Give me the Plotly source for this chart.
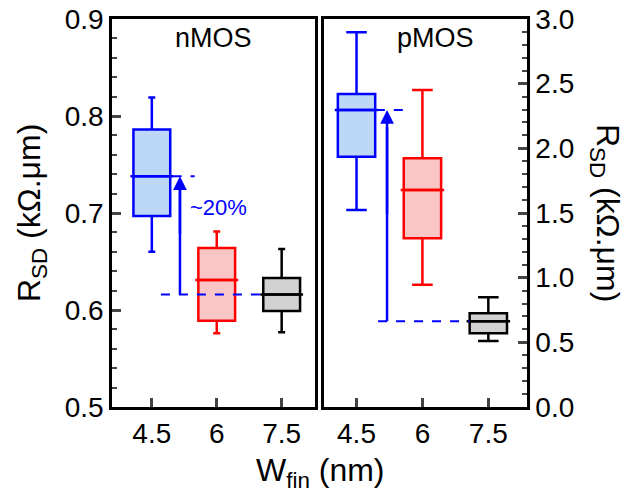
import plotly.graph_objects as go

# ---- data ----
wfin = [4.5, 6.0, 7.5]
wfin_labels = ["4.5", "6", "7.5"]

# nMOS R_SD (kOhm.um)
n_low = [0.660, 0.576, 0.577]
n_q1 = [0.697, 0.589, 0.599]
n_med = [0.738, 0.631, 0.616]
n_q3 = [0.786, 0.664, 0.633]
n_high = [0.819, 0.681, 0.663]

# pMOS R_SD (kOhm.um)
p_low = [1.523, 0.946, 0.510]
p_q1 = [1.935, 1.304, 0.570]
p_med = [2.296, 1.678, 0.663]
p_q3 = [2.420, 1.923, 0.724]
p_high = [2.897, 2.451, 0.848]

line_colors = ["#0000ff", "#ff0000", "#000000"]
fill_colors = ["#bdd7f7", "#f9c5c5", "#d2d2d2"]

FONT = "Liberation Sans, Arial, sans-serif"
BOXW = 0.85
LW = 2.5
W, H, OFF = 637, 497, 0


def PX(px):
    return (px - OFF) / W


def PY(py):
    return 1 - (py - OFF) / H


fig = go.Figure()


def add_boxes(low, q1, med, q3, high, xa, ya, whisk):
    for i, xv in enumerate(wfin):
        fig.add_trace(go.Box(
            x=[xv], q1=[q1[i]], median=[med[i]], q3=[q3[i]],
            lowerfence=[low[i]], upperfence=[high[i]],
            width=BOXW, whiskerwidth=whisk,
            fillcolor=fill_colors[i],
            line=dict(color=line_colors[i], width=LW),
            boxpoints=False, showlegend=False, hoverinfo="skip",
            xaxis=xa, yaxis=ya,
        ))
        # median line slightly wider than box
        fig.add_trace(go.Scatter(
            x=[xv - BOXW / 2 - 0.07, xv + BOXW / 2 + 0.07], y=[med[i], med[i]],
            mode="lines", line=dict(color=line_colors[i], width=LW),
            showlegend=False, hoverinfo="skip", xaxis=xa, yaxis=ya,
        ))


add_boxes(n_low, n_q1, n_med, n_q3, n_high, "x", "y", 0.19)
add_boxes(p_low, p_q1, p_med, p_q3, p_high, "x2", "y2", 0.55)


# dashed reference lines and arrows
def add_ref(xa, ya, top, bottom, top_x, bot_x, arrow_x):
    fig.add_trace(go.Scatter(x=top_x, y=[top, top], mode="lines",
                             line=dict(color="#0000ff", width=2, dash="dash"),
                             showlegend=False, hoverinfo="skip", xaxis=xa, yaxis=ya))
    fig.add_trace(go.Scatter(x=bot_x, y=[bottom, bottom], mode="lines",
                             line=dict(color="#0000ff", width=2, dash="dash"),
                             showlegend=False, hoverinfo="skip", xaxis=xa, yaxis=ya))
    fig.add_trace(go.Scatter(x=[arrow_x, arrow_x], y=[bottom, top - (top - bottom) * 0.08],
                             mode="lines", line=dict(color="#0000ff", width=LW),
                             showlegend=False, hoverinfo="skip", xaxis=xa, yaxis=ya))
    fig.add_annotation(x=arrow_x, y=top, ax=arrow_x, ay=bottom + (top - bottom) * 0.5,
                       xref=xa, yref=ya, axref=xa, ayref=ya,
                       showarrow=True, arrowhead=2, arrowsize=1.1, arrowwidth=LW,
                       arrowcolor="#0000ff", text="")


add_ref("x", "y", n_med[0], n_med[2], [4.98, 5.49], [4.71, 7.15], 5.15)
add_ref("x2", "y2", p_med[0], p_med[2], [4.53, 5.58], [4.99, 7.07], 5.195)

fig.add_annotation(x=6.05, y=0.706, xref="x", yref="y", text="~20%",
                   xanchor="center", yanchor="middle",
                   showarrow=False, font=dict(family=FONT, size=22, color="#0000ff"))
fig.add_annotation(x=0.5, y=0.951, xref="x domain", yref="y domain", text="nMOS",
                   xanchor="center", yanchor="middle",
                   showarrow=False, font=dict(family=FONT, size=27, color="black"))
fig.add_annotation(x=0.55, y=0.951, xref="x2 domain", yref="y2 domain", text="pMOS",
                   xanchor="center", yanchor="middle",
                   showarrow=False, font=dict(family=FONT, size=27, color="black"))

# axis titles
fig.add_annotation(x=PX(31), y=PY(213), xref="paper", yref="paper",
                   xanchor="center", yanchor="middle",
                   text="R<sub>SD</sub> (kΩ.μm)", textangle=-90, showarrow=False,
                   font=dict(family=FONT, size=32, color="black"))
fig.add_annotation(x=PX(606), y=PY(213), xref="paper", yref="paper",
                   xanchor="center", yanchor="middle",
                   text="R<sub>SD</sub> (kΩ.μm)", textangle=90, showarrow=False,
                   font=dict(family=FONT, size=32, color="black"))
fig.add_annotation(x=PX(320), y=PY(472), xref="paper", yref="paper",
                   xanchor="center", yanchor="middle",
                   text="W<sub>fin</sub> (nm)", showarrow=False,
                   font=dict(family=FONT, size=32, color="black"))

xcommon = dict(tickvals=wfin, ticktext=wfin_labels, ticks="inside", ticklen=9, tickwidth=LW,
               showline=True, linewidth=LW, linecolor="black", mirror=True,
               showgrid=False, zeroline=False, automargin=False,
               ticklabeloverflow="allow",
               tickfont=dict(family=FONT, size=28, color="black"))
ycommon = dict(ticks="inside", ticklen=9, tickwidth=LW,
               showline=True, linewidth=LW, linecolor="black", mirror=True,
               showgrid=False, zeroline=False, tickformat=".1f", automargin=False,
               ticklabeloverflow="allow",
               tickfont=dict(family=FONT, size=28, color="black"))

fig.update_layout(
    width=W, height=H,
    margin=dict(l=0, r=0, t=0, b=0, autoexpand=False),
    paper_bgcolor="white", plot_bgcolor="white",
    boxmode="overlay", showlegend=False,
    xaxis=dict(domain=[PX(112), PX(315)], range=[3.58, 8.27], anchor="y", **xcommon),
    xaxis2=dict(domain=[PX(324), PX(527)], range=[3.76, 8.38], anchor="y2", **xcommon),
    yaxis=dict(domain=[PY(407), PY(19)], range=[0.5, 0.9], dtick=0.1,
               anchor="x", side="left",
               minor=dict(dtick=0.02, ticks="inside", ticklen=5, tickwidth=2, showgrid=False),
               **ycommon),
    yaxis2=dict(domain=[PY(407), PY(19)], range=[0, 3.0], dtick=0.5,
                anchor="x2", side="right",
                minor=dict(dtick=0.1, ticks="inside", ticklen=5, tickwidth=2, showgrid=False),
                **ycommon),
)

fig.write_html("out.html",
               config={"displayModeBar": False},
               post_script="document.body.style.margin='0px';document.body.style.overflow='hidden';")
